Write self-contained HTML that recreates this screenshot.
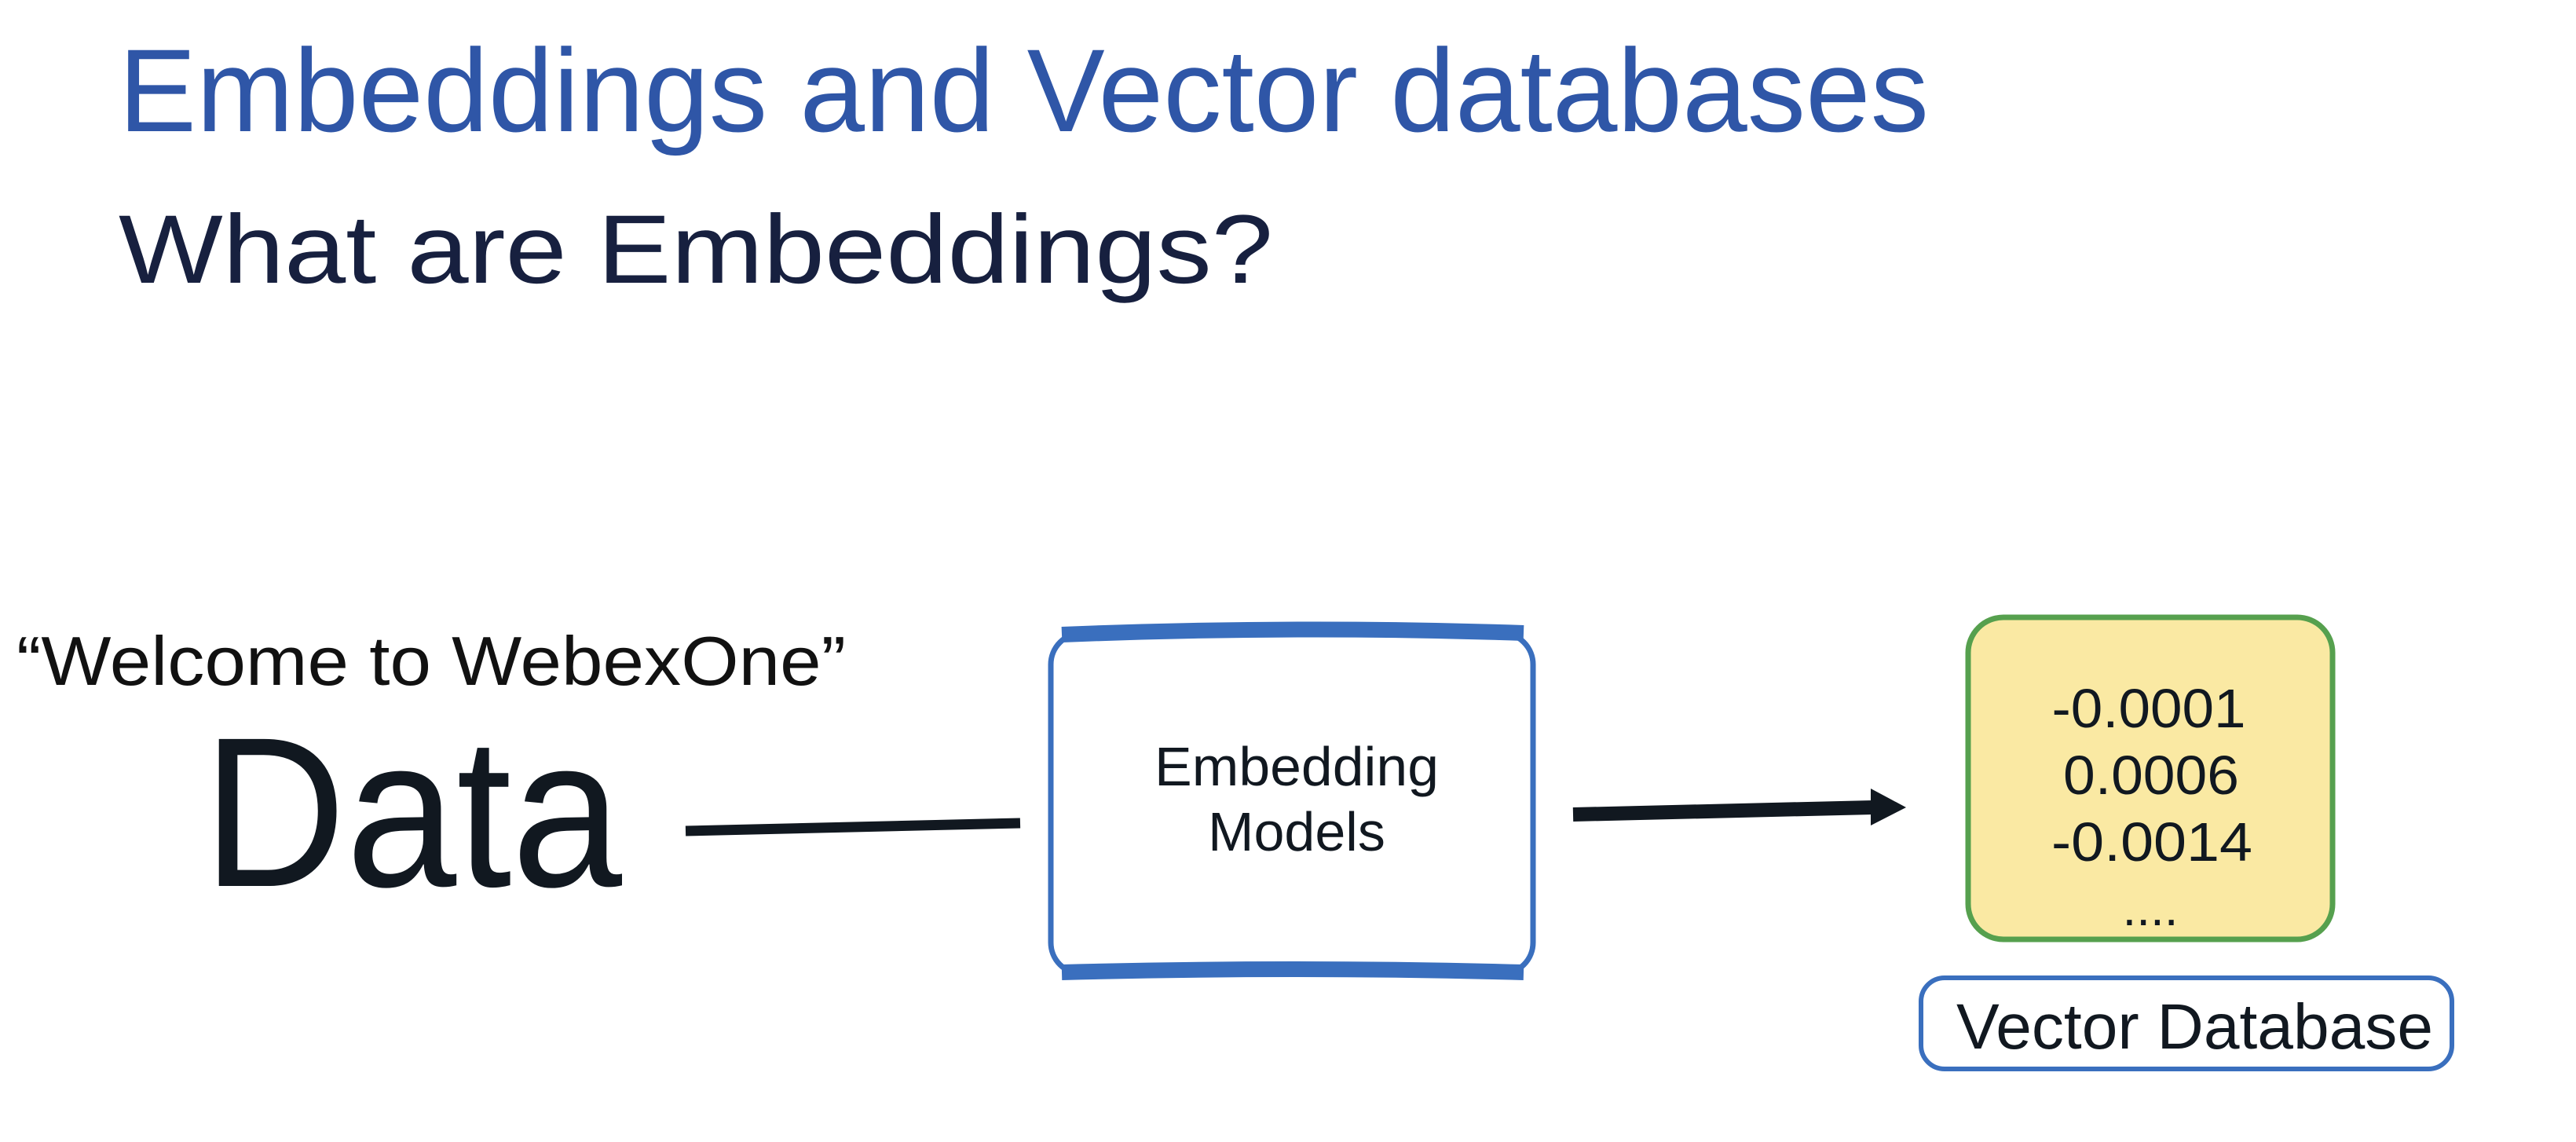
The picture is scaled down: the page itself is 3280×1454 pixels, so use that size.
<!DOCTYPE html>
<html><head><meta charset="utf-8"><style>
html,body{margin:0;padding:0;background:#fff;}
svg{display:block;}
text{font-family:"Liberation Sans",sans-serif;}
</style></head><body>
<svg width="3280" height="1454" viewBox="0 0 3280 1454" xmlns="http://www.w3.org/2000/svg">
<rect width="3280" height="1454" fill="#fff"/>
<text x="151" y="167" font-size="150" fill="#2f56a7" textLength="2305" lengthAdjust="spacingAndGlyphs">Embeddings and Vector databases</text>
<text x="151" y="360" font-size="124" fill="#17203f" textLength="1470" lengthAdjust="spacingAndGlyphs">What are Embeddings?</text>
<text x="21" y="872" font-size="88" fill="#111" textLength="1056" lengthAdjust="spacingAndGlyphs">“Welcome to WebexOne”</text>
<text x="258" y="1128" font-size="272" fill="#111820" textLength="534" lengthAdjust="spacingAndGlyphs">Data</text>
<path d="M873 1058 L1299 1048" stroke="#111820" stroke-width="13"/>
<!-- Embedding models box -->
<rect x="1338" y="806" width="614" height="434" rx="40" fill="#fff" stroke="#3a6fbe" stroke-width="7"/>
<path d="M1352 808 Q1650 796 1940 806" stroke="#3a6fbe" stroke-width="20" fill="none"/>
<path d="M1352 1238 Q1650 1230 1940 1238" stroke="#3a6fbe" stroke-width="20" fill="none"/>
<text x="1651" y="1000" font-size="70" fill="#111820" text-anchor="middle" textLength="362" lengthAdjust="spacingAndGlyphs">Embedding</text>
<text x="1651" y="1083" font-size="70" fill="#111820" text-anchor="middle">Models</text>
<!-- arrow -->
<path d="M2003 1037 L2385 1028" stroke="#111820" stroke-width="18"/>
<polygon points="2382,1004 2427,1028 2382,1051" fill="#111820"/>
<!-- vector box -->
<rect x="2506" y="786" width="464" height="410" rx="45" fill="#fae9a3" stroke="#56a04e" stroke-width="7"/>
<text x="2736" y="926" font-size="70" fill="#111820" text-anchor="middle" textLength="247" lengthAdjust="spacingAndGlyphs">-0.0001</text>
<text x="2739" y="1011" font-size="70" fill="#111820" text-anchor="middle" textLength="224" lengthAdjust="spacingAndGlyphs">0.0006</text>
<text x="2740" y="1096" font-size="70" fill="#111820" text-anchor="middle" textLength="256" lengthAdjust="spacingAndGlyphs">-0.0014</text>
<text x="2738" y="1178" font-size="64" fill="#111820" text-anchor="middle">....</text>
<!-- Vector database label -->
<rect x="2446" y="1245" width="676" height="116" rx="30" fill="#fff" stroke="#3a6fbe" stroke-width="6"/>
<text x="2491" y="1335" font-size="82" fill="#111820" textLength="607" lengthAdjust="spacingAndGlyphs">Vector Database</text>
</svg>
</body></html>
